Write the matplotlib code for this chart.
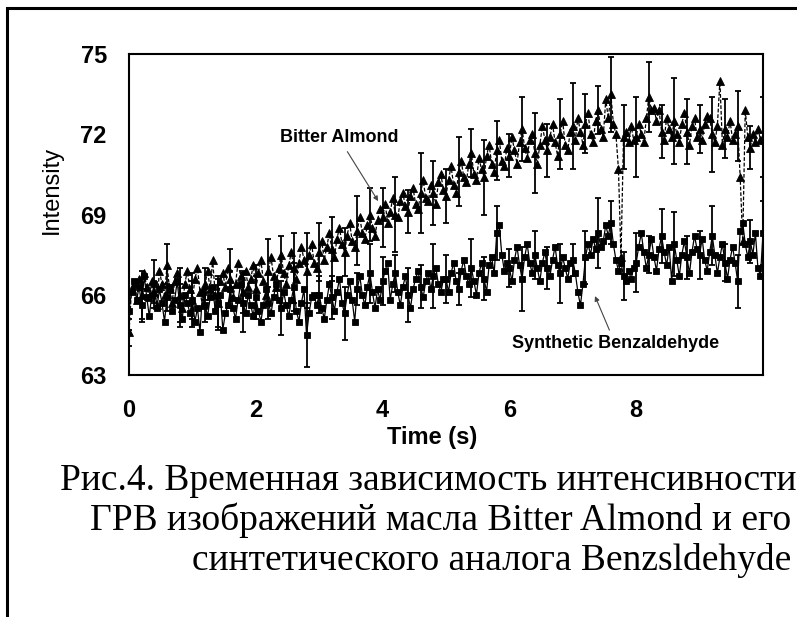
import numpy as np
import matplotlib
matplotlib.use("Agg")
import matplotlib.pyplot as plt
from matplotlib.patches import Rectangle

# ---------------- data ----------------
time_step = 0.04          # s between samples, 251 samples from 0 to 10 s

bitter_almond = (
    [64.6, 66.2, 66.4, 65.8, 66.6, 66.0, 66.8, 66.3, 65.9, 66.5, 66.1, 65.6, 66.9, 66.4, 66.0, 67.1, 66.2, 65.7, 66.5, 66.8, 66.0, 65.5, 66.4, 66.9, 66.2] +
    [65.8, 66.6, 67.0, 66.1, 65.6, 66.4, 66.9, 66.2, 67.3, 66.0, 65.7, 66.5, 66.8, 66.3, 67.0, 66.6, 65.9, 66.4, 67.2, 66.7, 66.1, 66.9, 66.3, 66.6, 67.1] +
    [66.2, 66.8, 67.3, 66.5, 66.0, 66.9, 67.4, 66.7, 66.3, 67.0, 67.5, 66.8, 66.4, 67.1, 67.6, 67.0, 66.6, 67.2, 67.8, 67.3, 66.9, 67.5, 67.9, 67.2, 67.0] +
    [67.6, 68.0, 67.3, 67.8, 68.3, 67.7, 67.4, 68.1, 68.5, 67.9, 67.6, 68.2, 68.7, 68.0, 67.8, 68.4, 68.9, 68.3, 68.1, 68.6, 69.0, 68.5, 68.2, 68.8, 69.2] +
    [68.9, 69.4, 68.7, 69.1, 69.6, 69.0, 68.9, 69.5, 69.8, 69.3, 69.1, 69.7, 70.0, 69.4, 69.2, 69.8, 70.3, 69.6, 69.5, 70.1, 69.8, 69.4, 70.2, 70.5, 69.9] +
    [69.7, 70.3, 70.8, 70.1, 69.8, 70.6, 71.0, 70.4, 70.2, 70.9, 71.3, 70.5, 70.3, 71.1, 70.7, 70.4, 71.2, 71.6, 70.9, 70.6, 71.4, 71.8, 71.0, 70.8, 71.5] +
    [71.2, 71.9, 71.4, 70.9, 71.7, 72.2, 71.5, 71.1, 71.8, 72.0, 71.3, 70.9, 71.6, 72.3, 71.8, 71.4, 71.9, 72.4, 71.7, 71.2, 72.0, 72.5, 71.6, 71.4, 72.1] +
    [72.3, 71.8, 72.6, 72.1, 71.6, 72.4, 72.8, 72.0, 71.7, 72.5, 72.9, 72.2, 71.9, 73.3, 72.6, 73.5, 72.4, 72.0, 70.7, 67.4, 71.9, 72.1, 71.7, 72.3, 71.8] +
    [71.9, 72.4, 72.0, 71.7, 72.6, 73.4, 72.9, 73.0, 72.5, 72.9, 72.1, 71.8, 72.6, 72.2, 71.9, 72.5, 72.0, 71.7, 72.4, 72.8, 72.1, 71.6, 72.3, 72.6, 71.9] +
    [72.2, 71.8, 72.4, 72.7, 72.6, 72.0, 71.7, 72.3, 74.0, 71.6, 72.2, 71.9, 72.5, 71.8, 72.0, 72.3, 70.4, 68.0, 72.9, 71.9, 71.5, 72.0, 71.7, 72.2, 71.8] +
    [71.9]
)

synthetic_benzaldehyde = (
    [65.4, 66.1, 66.5, 65.8, 66.3, 65.6, 66.7, 65.9, 65.2, 66.0, 66.4, 65.5, 66.2, 65.7, 65.0, 65.9, 66.3, 65.4, 65.8, 66.5, 65.6, 65.1, 66.0, 65.7, 65.3] +
    [65.8, 65.0, 65.5, 64.6, 66.1, 65.6, 65.2, 65.9, 66.3, 65.4, 65.7, 66.0, 64.7, 65.3, 65.6, 66.2, 65.5, 65.1, 65.8, 66.4, 65.7, 65.3, 66.0, 65.6, 65.2] +
    [65.9, 65.4, 65.0, 65.6, 66.2, 65.7, 65.3, 65.9, 66.4, 65.8, 65.5, 66.1, 65.6, 65.2, 65.8, 66.3, 65.4, 65.0, 65.7, 66.2, 64.5, 65.3, 65.9, 66.0, 65.6] +
    [66.0, 65.5, 65.1, 65.8, 66.4, 65.9, 65.4, 66.1, 66.6, 65.7, 65.3, 66.0, 66.5, 65.8, 65.0, 66.2, 66.7, 66.0, 65.6, 66.3, 66.8, 66.1, 65.5, 66.2, 65.8] +
    [66.5, 66.9, 67.2, 65.8, 66.4, 66.8, 66.1, 65.6, 66.3, 66.7, 66.0, 65.5, 66.2, 66.6, 66.9, 66.3, 65.9, 66.5, 66.8, 66.2, 66.7, 67.0, 66.4, 66.1, 66.6] +
    [66.6, 66.1, 66.8, 67.2, 66.5, 66.2, 66.9, 67.3, 66.7, 66.4, 67.0, 66.5, 66.0, 66.8, 67.2, 66.6, 66.1, 67.1, 67.4, 66.8, 68.3, 68.6, 67.5, 66.9, 67.2] +
    [67.0, 66.5, 67.3, 67.8, 67.1, 66.6, 67.4, 67.9, 67.2, 66.8, 67.5, 67.0, 66.5, 67.2, 67.6, 67.0, 66.7, 67.3, 67.8, 67.1, 66.8, 67.4, 67.0, 66.6, 67.2] +
    [67.3, 66.8, 66.1, 65.6, 66.4, 67.4, 67.9, 67.5, 68.1, 67.7, 68.3, 67.8, 68.0, 68.6, 68.2, 68.7, 67.9, 67.3, 66.9, 67.2, 66.7, 66.5, 66.9, 66.6, 67.0] +
    [67.2, 67.8, 68.3, 67.6, 67.0, 67.5, 68.1, 67.4, 66.9, 67.7, 68.2, 67.6, 67.1, 67.8, 66.5, 67.9, 67.3, 66.7, 67.5, 68.0, 67.4, 66.8, 67.6, 68.2, 67.7] +
    [67.5, 68.1, 67.3, 66.9, 67.6, 68.2, 67.5, 66.8, 67.4, 67.9, 67.2, 66.6, 67.3, 67.8, 67.2, 66.5, 68.4, 68.7, 67.9, 67.4, 68.0, 67.5, 68.3, 67.0, 66.7] +
    [68.3]
)

# error bars: one on every 5th sample
err_every = 5
bitter_almond_err = [0.5, 0.9, 0.4, 0.8, 1.0, 0.7, 0.6, 1.0, 1.1, 0.8, 0.9, 1.2, 0.7, 1.3, 1.4, 1.1, 1.2,
                     0.9, 1.3, 1.0, 1.1, 1.4, 0.8, 1.5, 1.2, 1.0, 1.3, 0.9, 1.4, 1.1, 0.8, 1.2, 1.5, 1.0,
                     1.3, 1.6, 1.1, 0.9, 1.4, 1.2, 1.5, 1.3, 1.0, 1.6, 1.2, 0.9, 1.4, 1.1, 1.3, 0.8, 1.5]
synthetic_err = [0.7, 0.6, 0.9, 0.5, 0.8, 1.0, 0.6, 0.9, 0.7, 1.1, 0.8, 0.6, 1.0, 0.9, 1.2, 0.7, 0.8,
                 1.0, 0.6, 1.1, 0.9, 0.7, 1.0, 0.8, 1.2, 0.9, 0.6, 1.1, 0.8, 1.0, 0.7, 1.2, 0.9, 0.8,
                 1.1, 0.6, 1.0, 1.3, 0.8, 0.9, 1.1, 0.7, 1.0, 1.2, 0.8, 0.9, 1.1, 0.7, 1.0, 0.8, 1.2]

x_ticks = [0, 2, 4, 6, 8]
y_ticks = [63, 66, 69, 72, 75]
x_label = "Time (s)"
y_label = "Intensity"
label_ba = "Bitter Almond"
label_sb = "Synthetic Benzaldehyde"
caption = ["Рис.4. Временная зависимость интенсивности",
           "ГРВ изображений масла Bitter Almond и его",
           "синтетического аналога Benzsldehyde"]

# ---------------- figure ----------------
W, H = 797, 617
fig = plt.figure(figsize=(W / 100, H / 100), dpi=100)
fig.patch.set_facecolor("white")

# outer frame (only left & top are visible in the picture)
fig.patches.append(Rectangle((7 / W, -0.2), 1.5, 1.2 - 8 / H, transform=fig.transFigure,
                             fill=False, edgecolor="black", linewidth=2.2))

ax = fig.add_axes([129 / W, 1 - 375 / H, (763 - 129) / W, (375 - 54) / H])

t_ba = np.arange(len(bitter_almond)) * time_step
t_sb = np.arange(len(synthetic_benzaldehyde)) * time_step
ba = np.array(bitter_almond)
sb = np.array(synthetic_benzaldehyde)
idx = np.arange(0, len(ba), err_every)

ax.errorbar(t_ba[idx], ba[idx], yerr=bitter_almond_err, fmt="none", ecolor="black",
            elinewidth=1.3, capsize=2.4, capthick=1.3, zorder=2)
ax.errorbar(t_sb[idx], sb[idx], yerr=synthetic_err, fmt="none", ecolor="black",
            elinewidth=1.3, capsize=2.4, capthick=1.3, zorder=2)
ax.plot(t_ba, ba, color="black", linestyle=(0, (3, 1.5)), linewidth=0.9,
        marker="^", markersize=5.4, markeredgewidth=0.6, zorder=3)
ax.plot(t_sb, sb, color="black", linestyle="-", linewidth=0.9,
        marker="s", markersize=4.8, markeredgewidth=0.6, zorder=3)

ax.set_xlim(0, 10)
ax.set_ylim(63, 75)
ax.set_xticks(x_ticks)
ax.set_yticks(y_ticks)
ax.tick_params(length=0, labelsize=17, pad=0)
ax.tick_params(axis="y", pad=16)
ax.tick_params(axis="x", pad=17)
for lab in ax.get_xticklabels() + ax.get_yticklabels():
    lab.set_fontfamily("Liberation Sans")
    lab.set_fontweight("bold")
for s in ax.spines.values():
    s.set_linewidth(1.5)
    s.set_color("black")

ax.set_xlabel(x_label, fontsize=17, fontweight="bold", family="Liberation Sans")
ax.xaxis.set_label_coords((432 - 129) / 634, (375 - 426) / 321)
ax.set_ylabel(y_label, fontsize=17, family="Liberation Sans")
ax.yaxis.set_label_coords((52 - 129) / 634, (375 - 190) / 321)
ax.yaxis.label.set_verticalalignment("center")

ax.annotate(label_ba, xy=(3.93, 69.5), xytext=(3.31, 71.86), ha="center", va="center",
            fontsize=13, fontweight="bold", family="Liberation Sans",
            arrowprops=dict(arrowstyle="-|>", color="#444444", lw=0.8, shrinkA=2, shrinkB=0,
                            mutation_scale=7))
ax.annotate(label_sb, xy=(7.35, 65.95), xytext=(7.67, 64.16), ha="center", va="center",
            fontsize=13, fontweight="bold", family="Liberation Sans",
            arrowprops=dict(arrowstyle="-|>", color="#444444", lw=0.8, shrinkA=2, shrinkB=0,
                            mutation_scale=7))

# caption
cap_x = [0.999, 0.993, 0.993]
cap_base = [490, 530, 570]
for txt, cx, cy in zip(caption, cap_x, cap_base):
    fig.text(cx, 1 - cy / H, txt, ha="right", va="baseline", fontsize=27,
             family="Liberation Serif", color="black")

fig.savefig("out.png", dpi=100, facecolor="white")
